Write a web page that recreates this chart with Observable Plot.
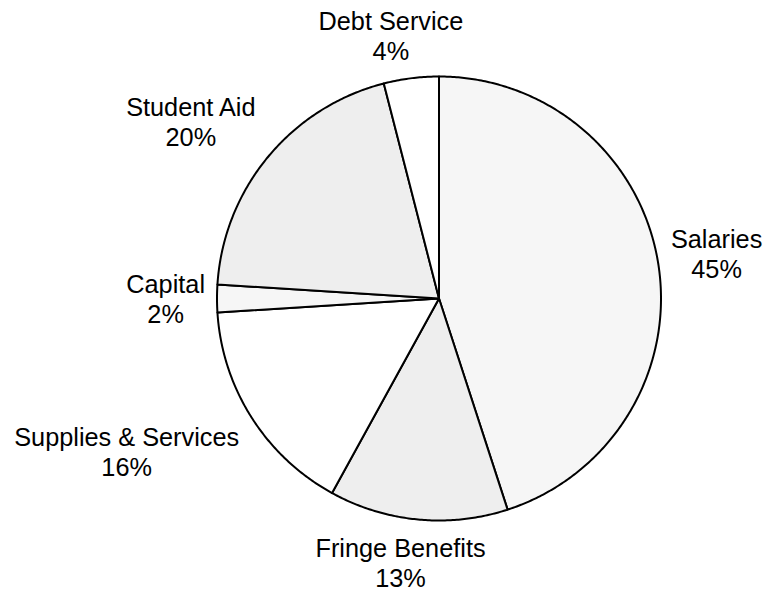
<!DOCTYPE html>
<html><head><meta charset="utf-8">
<script src="https://cdn.jsdelivr.net/npm/d3@7"></script>
<script src="https://cdn.jsdelivr.net/npm/@observablehq/plot@0.6"></script>
<style>html,body{margin:0;padding:0;background:#fff}</style>
</head><body><div id="chart"></div>
<script>
// ---- data ----
const categories = ["Salaries", "Fringe Benefits", "Supplies & Services", "Capital", "Student Aid", "Debt Service"];
const shares = [45, 13, 16, 2, 20, 4];
const fills = ["#f6f6f6", "#eeeeee", "#ffffff", "#f6f6f6", "#eeeeee", "#ffffff"];

// ---- layout ----
const W = 763, H = 594, CX = 438.5, CY = 298, R = 222;
const FONT = '"Liberation Sans", Arial, Helvetica, sans-serif';
const FONT_SIZE = 25.3, LINE_H = 1.186, BOX_H = 52;
const LABEL_GAP = 12, LABEL_GAP_V = 5; // px beyond the rim

const total = d3.sum(shares);
let acc = 0;
const slices = categories.map((name, i) => {
  const a0 = acc / total * 2 * Math.PI;
  acc += shares[i];
  const a1 = acc / total * 2 * Math.PI;
  return {name, value: shares[i], a0, a1, fill: fills[i]};
});

function slicePolygon(a0, a1) {
  const pts = [[0, 0]];
  const n = Math.max(2, Math.ceil((a1 - a0) / (Math.PI / 360)));
  for (let k = 0; k <= n; k++) {
    const a = a0 + (a1 - a0) * k / n;
    pts.push([Math.sin(a), -Math.cos(a)]);
  }
  pts.push([0, 0]);
  return pts;
}

const clamp = v => Math.max(-0.5, Math.min(0.5, v));
const ctx = document.createElement("canvas").getContext("2d");
ctx.font = `${FONT_SIZE}px ${FONT}`;
const labels = slices.map(s => {
  const m = (s.a0 + s.a1) / 2;
  const lines = [s.name, `${s.value}%`];
  const w = Math.max(...lines.map(t => ctx.measureText(t).width));
  const sx = Math.sin(m), cy = Math.cos(m);
  const r = (R + LABEL_GAP + LABEL_GAP_V * Math.abs(cy)) / R;
  return {
    text: lines.join("\n"),
    x: r * sx + w * clamp(sx) / R,
    y: -r * cy - BOX_H * clamp(cy) / R
  };
});

const domain = {type: "MultiPoint", coordinates: [[-CX / R, -CY / R], [(W - CX) / R, (H - CY) / R]]};

const chart = Plot.plot({
  width: W,
  height: H,
  margin: 0,
  projection: {type: "identity", domain},
  color: {type: "identity"},
  style: {background: "#fff", fontFamily: FONT},
  marks: [
    Plot.geo(slices, {
      geometry: d => ({type: "Polygon", coordinates: [slicePolygon(d.a0, d.a1)]}),
      fill: d => d.fill,
      stroke: "#000",
      strokeWidth: 2,
      strokeLinejoin: "round"
    }),
    Plot.text(labels, {
      x: "x", y: "y", text: "text",
      fontSize: FONT_SIZE, fontFamily: FONT, lineHeight: LINE_H,
      lineAnchor: "middle", textAnchor: "middle", fill: "#000"
    })
  ]
});
document.getElementById("chart").append(chart);
</script>
</body></html>
